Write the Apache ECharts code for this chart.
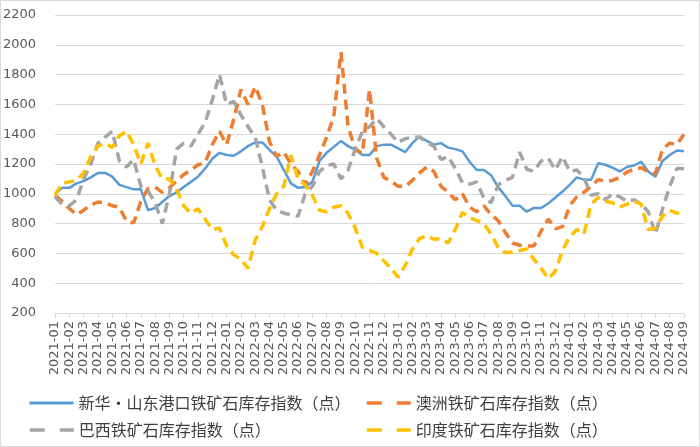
<!DOCTYPE html>
<html>
<head>
<meta charset="utf-8">
<script src="https://cdn.jsdelivr.net/npm/echarts@6/dist/echarts.min.js"></script>
<style>
html,body{margin:0;padding:0;background:#fff;}
#chart{width:700px;height:447px;}
</style>
</head>
<body>
<div id="chart"></div>
<script>
// Month tick labels (x-axis categories)
const months = [
 '2021-01','2021-02','2021-03','2021-04','2021-05','2021-06','2021-07','2021-08','2021-09','2021-10','2021-11','2021-12',
 '2022-01','2022-02','2022-03','2022-04','2022-05','2022-06','2022-07','2022-08','2022-09','2022-10','2022-11','2022-12',
 '2023-01','2023-02','2023-03','2023-04','2023-05','2023-06','2023-07','2023-08','2023-09','2023-10','2023-11','2023-12',
 '2024-01','2024-02','2024-03','2024-04','2024-05','2024-06','2024-07','2024-08','2024-09'
];
// Series names
const names = ['新华•山东港口铁矿石库存指数（点）','澳洲铁矿石库存指数（点）','巴西铁矿石库存指数（点）','印度铁矿石库存指数（点）'];
// Semi-monthly readings (two per month, 2021-01 .. 2024-09)
const shandong = [1000,1040,1040,1070,1085,1110,1140,1140,1115,1060,1045,1030,1030,890,905,945,985,1010,1045,1080,
 1115,1170,1235,1275,1260,1255,1285,1320,1345,1345,1295,1250,1160,1070,1040,1045,1080,1220,1275,1315,
 1355,1320,1295,1260,1260,1320,1330,1330,1305,1280,1340,1385,1355,1330,1340,1310,1300,1285,1215,1160,
 1160,1125,1045,985,920,920,880,905,905,935,975,1015,1060,1110,1095,1095,1205,1195,1175,1150,
 1180,1190,1215,1150,1115,1220,1260,1290,1285];
const australia = [990,950,900,860,890,925,945,940,920,910,815,805,950,1035,1045,1010,1040,1085,1130,1160,
 1195,1210,1330,1420,1330,1500,1700,1600,1720,1600,1350,1250,1280,1200,1150,1060,1150,1260,1380,1520,
 1950,1450,1300,1270,1700,1240,1110,1085,1050,1050,1090,1140,1180,1150,1050,1010,960,1000,910,880,
 920,860,820,740,670,655,650,650,750,830,765,780,920,980,1010,1050,1095,1085,1090,1110,
 1145,1165,1175,1150,1135,1300,1340,1330,1400];
const brazil = [980,930,920,960,1100,1200,1340,1380,1420,1220,1180,1230,1050,1020,940,800,1000,1300,1340,1320,
 1400,1480,1630,1800,1600,1620,1530,1450,1380,1180,960,890,870,860,850,1000,1050,1150,1190,1200,
 1100,1160,1300,1420,1450,1505,1450,1400,1345,1370,1380,1380,1345,1320,1230,1250,1170,1075,1065,1080,
 970,940,1060,1090,1110,1280,1165,1150,1220,1240,1160,1250,1150,1160,1110,990,1000,960,1000,980,
 950,960,930,880,730,900,1050,1170,1170];
const india = [990,1070,1080,1090,1140,1250,1320,1340,1310,1390,1420,1330,1200,1340,1190,1100,1100,1030,920,870,
 900,830,760,770,650,590,560,500,690,780,900,1000,1050,1260,1100,1060,990,890,880,910,
 920,870,770,640,620,600,550,500,440,520,630,700,720,695,700,670,760,875,840,820,
 800,730,640,605,610,620,630,560,500,430,480,620,710,760,730,930,975,950,940,910,
 930,950,930,760,770,850,890,870,880];
const yTicks = {min: 200, max: 2200, step: 200};
const colors = ['#5B9BD5','#ED7D31','#A5A5A5','#FFC000'];

function toXY(arr){ return arr.map((v,i)=>[i/2, v]); }
const seriesData = [shandong, australia, brazil, india];

const chart = echarts.init(document.getElementById('chart'), null, {renderer:'canvas'});
const font = 'DejaVu Sans';
const cjk = '"Noto Sans CJK SC", "Noto Sans", sans-serif';

const series = seriesData.map((d, k) => ({
  name: names[k],
  type: 'line',
  data: toXY(d),
  symbol: 'none',
  showSymbol: false,
  smooth: false,
  lineStyle: k === 0
    ? {color: colors[k], width: 2.5, type: 'solid'}
    : {color: colors[k], width: 3.5, type: [10, 6], cap: 'butt'},
  itemStyle: {color: colors[k]},
  z: 2 + k
}));

const legendPos = [[28,395],[365,395],[28,422],[365,422]];
const legends = names.map((n,k)=>({
  data: [n], left: legendPos[k][0], top: legendPos[k][1],
  itemWidth: 44, itemHeight: 14, itemGap: 5, padding: 0,
  itemStyle: {opacity: 0},
  lineStyle: k === 0 ? {width: 3, type: 'solid'} : {width: 3.5, type: [15, 15], cap: 'butt'},
  textStyle: {fontSize: 16, color: '#404040', fontFamily: cjk}
}));

chart.setOption({
  animation: false,
  backgroundColor: '#fff',
  color: colors,
  grid: {left: 54, right: 16, top: 15, bottom: 134, containLabel: false},
  legend: legends,
  xAxis: {
    type: 'value', min: 0, max: months.length - 1, interval: 1,
    axisLine: {show: true, lineStyle: {color: '#d9d9d9', width: 1}},
    axisTick: {show: true, length: 5, lineStyle: {color: '#d9d9d9'}},
    splitLine: {show: false},
    axisLabel: {
      rotate: 90, fontSize: 13, fontFamily: font, color: '#595959', margin: 8,
      formatter: v => months[Math.round(v)] || ''
    }
  },
  yAxis: {
    type: 'value', min: yTicks.min, max: yTicks.max, interval: yTicks.step,
    axisLine: {show: false}, axisTick: {show: false},
    splitLine: {lineStyle: {color: '#d9d9d9', width: 1}},
    axisLabel: {fontSize: 13, fontFamily: font, color: '#595959', margin: 19, formatter: v => String(v)}
  },
  graphic: [{
    type: 'rect', shape: {x: 0.5, y: 0.5, width: 699, height: 446},
    style: {fill: null, stroke: '#d9d9d9', lineWidth: 1}, silent: true
  }],
  series: series
});
</script>
</body>
</html>
